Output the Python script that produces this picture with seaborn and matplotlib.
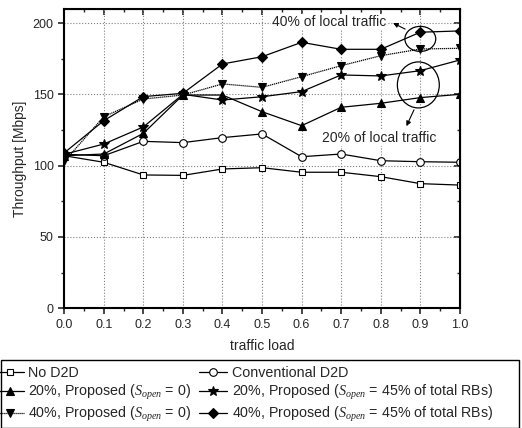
import numpy as np
import pandas as pd
import matplotlib
matplotlib.use("Agg")
import matplotlib.pyplot as plt
from matplotlib.patches import Ellipse, Rectangle
from matplotlib.ticker import MultipleLocator
import seaborn as sns

load = [0.0, 0.1, 0.2, 0.3, 0.4, 0.5, 0.6, 0.7, 0.8, 0.9, 1.0]
no_d2d = [107, 102.4, 93.5, 93.2, 97.7, 98.6, 95.4, 95.4, 92.3, 87.4, 86.4]
conventional = [108, 107, 117.1, 116.2, 119.7, 122.3, 106.3, 108.2, 103.5, 102.8, 102.4]
p20_s0 = [107, 108.2, 122.7, 149.6, 149.6, 137.9, 128.1, 141, 143.8, 147.8, 150.1]
p20_s45 = [108, 115.2, 127.2, 150.1, 146.1, 148.4, 152, 163.7, 163, 166.7, 174.2]
p40_s0 = [103, 134.4, 146.8, 149.6, 157.4, 155, 162.5, 170.2, 177.2, 181.9, 182.4]
p40_s45 = [109, 131.6, 148.5, 150.8, 171.4, 176.5, 186.6, 181.7, 181.7, 193.7, 194.6]

labels = ["No D2D",
          "Conventional D2D",
          "20%, Proposed ($S_{open}$ = 0)",
          "20%, Proposed ($S_{open}$ = 45% of total RBs)",
          "40%, Proposed ($S_{open}$ = 0)",
          "40%, Proposed ($S_{open}$ = 45% of total RBs)"]
series = [no_d2d, conventional, p20_s0, p20_s45, p40_s0, p40_s45]
markers = ["s", "o", "^", "*", "v", "D"]
fills = ["white", "white", "black", "black", "black", "black"]
sizes = [5, 5.5, 6, 7.5, 6, 5]
styles = ["-", "-", "-", "-", (0, (1, 0.6)), "-"]

sns.set_style("ticks")
plt.rcParams["font.family"] = ["Liberation Sans", "DejaVu Sans"]
plt.rcParams["mathtext.fontset"] = "custom"
plt.rcParams["mathtext.it"] = "Liberation Serif:italic"
plt.rcParams["mathtext.rm"] = "Liberation Sans"

fig = plt.figure(figsize=(5.22, 4.28), dpi=100)
ax = fig.add_axes([0.123, 0.28, 0.758, 0.699])

for vals, lab, m, fc, ms, ls in zip(series, labels, markers, fills, sizes, styles):
    df = pd.DataFrame({"load": load, "thr": vals})
    sns.lineplot(data=df, x="load", y="thr", ax=ax, color="black", lw=0.9,
                 linestyle=ls, marker=m, markersize=ms, markerfacecolor=fc,
                 markeredgecolor="black", markeredgewidth=0.8, label=lab)
ax.get_legend().remove()
handles, leg_labels = ax.get_legend_handles_labels()

ax.set_xlim(0, 1.0)
ax.set_ylim(0, 210)
ax.xaxis.set_major_locator(MultipleLocator(0.1))
ax.xaxis.set_minor_locator(MultipleLocator(0.05))
ax.yaxis.set_major_locator(MultipleLocator(50))
ax.yaxis.set_minor_locator(MultipleLocator(25))
ax.xaxis.set_major_formatter(matplotlib.ticker.FormatStrFormatter("%.1f"))
ax.grid(True, which="major", linestyle=":", color="gray", lw=0.8)
ax.tick_params(which="major", direction="out", length=4, width=1.2, labelsize=9)
ax.tick_params(which="minor", direction="out", length=2, width=1)
for s in ax.spines.values():
    s.set_linewidth(1.5)
    s.set_color("black")

top = ax.secondary_xaxis("top")
top.xaxis.set_major_locator(MultipleLocator(0.1))
top.xaxis.set_minor_locator(MultipleLocator(0.05))
top.tick_params(which="major", direction="in", length=4, width=1.2, labeltop=False)
top.tick_params(which="minor", direction="in", length=2, width=1)
right = ax.secondary_yaxis("right")
right.yaxis.set_major_locator(MultipleLocator(50))
right.yaxis.set_minor_locator(MultipleLocator(25))
right.tick_params(which="major", direction="in", length=4, width=1.2, labelright=False)
right.tick_params(which="minor", direction="in", length=2, width=1)

ax.set_xlabel("traffic load", fontsize=10, labelpad=6)
ax.set_ylabel("Throughput [Mbps]", fontsize=10, labelpad=4)

ax.add_patch(Ellipse((0.9, 189), 0.078, 17.6, fill=False, color="black", lw=0.9))
ax.add_patch(Ellipse((0.895, 156.7), 0.106, 32.3, fill=False, color="black", lw=0.9))
ax.text(0.67, 201, "40% of local traffic", ha="center", va="center", fontsize=10,
        bbox=dict(facecolor="white", edgecolor="none", pad=0.5))
ax.annotate("", xy=(0.825, 201), xytext=(0.868, 195),
            arrowprops=dict(arrowstyle="-|>", color="black", lw=0.8, mutation_scale=7))
ax.text(0.795, 119.5, "20% of local traffic", ha="center", va="center", fontsize=10,
        bbox=dict(facecolor="white", edgecolor="none", pad=0.5))
ax.annotate("", xy=(0.862, 126), xytext=(0.887, 141),
            arrowprops=dict(arrowstyle="-|>", color="black", lw=0.8, mutation_scale=7))

fig.patches.append(Rectangle((0.002, 0.0), 0.992, 0.159, transform=fig.transFigure,
                             fill=False, edgecolor="black", lw=1.0))
order = [0, 2, 4, 1, 3, 5]
fig.legend([handles[i] for i in order], [leg_labels[i] for i in order],
           loc="upper left", bbox_to_anchor=(-0.025, 0.165), ncol=2, frameon=False,
           fontsize=10.3, handlelength=2.0, handletextpad=0.3, columnspacing=0.5,
           labelspacing=0.22, borderaxespad=0.2)

fig.savefig("out.png", dpi=100)
